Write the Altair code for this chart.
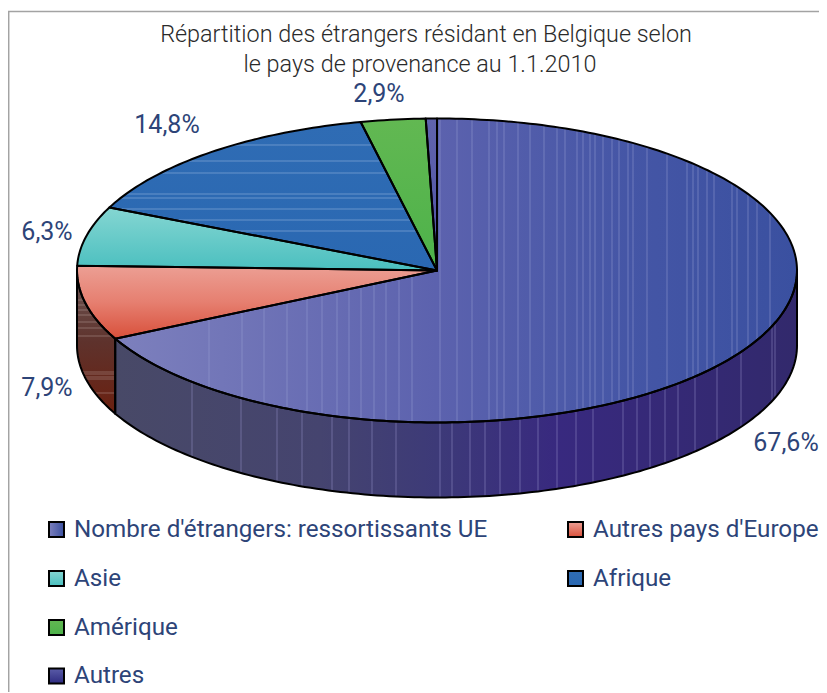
import math
import altair as alt
import pandas as pd

# ---- values
categories = ["Nombre d'étrangers: ressortissants UE", "Autres pays d'Europe", "Asie", "Afrique", "Amérique", "Autres"]
shares = [67.6, 7.9, 6.3, 14.8, 2.9, 0.5]
share_labels = ["67,6%", "7,9%", "6,3%", "14,8%", "2,9%"]
title_lines = ["Répartition des étrangers résidant en Belgique selon", "le pays de provenance au 1.1.2010"]

# ---- layout (page pixels)
CX, CY, RX, RY, DEPTH = 437.0, 270.5, 360.0, 152.0, 75.0
def ux(px): return (px - CX) / RX
def vy(py): return (CY - py) / RY
D = DEPTH / RY

label_pos = [(786, 443), (47, 388), (47, 232), (167, 125), (379, 94)]
title_pos = [(426, 34.5), (420, 64.5)]
legend_pos = [(56.5, 529.5), (575.5, 529.5), (56.5, 578.5), (575.5, 578.5), (56.5, 627.5), (56.5, 676)]

TOP_STRIPES = [209,242,264,287,307,322,337,349,361,374,386,399,412,
               440,457,472,489,497,504,518,530,544,557,565,577,583,590,595,603,612,619,628,633,647,667,687,693,698,707,714,732,737,748,757,770]
WALL_STRIPES = [192,241,277,302,332,349,372,396,440,452,470,485,500,520,538,557,576,593,623,637,650,665,678,695,717,741,772,775]
AFR_STRIPES = [145,161,173,194,198,209,220,231]
EUR_WALL_STRIPES = [300,305,310,315,322,328,336,372,374,377,379,393]

def grad_h(*stops):
    return alt.Gradient(gradient="linear", x1=0, x2=1, y1=0, y2=0,
                        stops=[alt.GradientStop(offset=o, color=c) for o, c in stops])
def grad_v(*stops):
    return alt.Gradient(gradient="linear", x1=0, x2=0, y1=0, y2=1,
                        stops=[alt.GradientStop(offset=o, color=c) for o, c in stops])

top_fills = [
    grad_h((0, "#7d80bd"), (0.47, "#5c62ae"), (0.75, "#4556a6"), (1, "#3a50a0")),
    grad_v((0, "#ec9f94"), (0.5, "#e67f70"), (1, "#d8503b")),
    grad_v((0, "#85d6d2"), (1, "#4abfbf")),
    grad_v((0, "#2f6cb4"), (1, "#2a68b2")),
    grad_v((0, "#62b852"), (1, "#4db24a")),
    grad_v((0, "#6063ad"), (1, "#4f53a5")),
]
legend_fills = [
    grad_h((0, "#7d80bd"), (1, "#3a50a0")),
    grad_v((0, "#ec9f94"), (1, "#d8503b")),
    grad_v((0, "#85d6d2"), (1, "#4abfbf")),
    grad_v((0, "#2f6cb4"), (1, "#2a68b2")),
    grad_v((0, "#62b852"), (1, "#4db24a")),
    grad_v((0, "#5a5ca8"), (1, "#2e2b80")),
]

# ---- slice geometry from the shares
edges = [0.0]
for s in shares:
    edges.append(edges[-1] + s * 3.6)
edges[-1] = 360.0

def arc(a0, a1, dv=0.0):
    n = max(2, int(abs(a1 - a0)) + 1)
    pts = []
    for i in range(n + 1):
        t = math.radians(a0 + (a1 - a0) * i / n)
        pts.append((math.sin(t), math.cos(t) - dv))
    return pts

def frame(pts):
    return pd.DataFrame({"u": [p[0] for p in pts], "v": [p[1] for p in pts], "i": range(len(pts))})

X = alt.Scale(domain=[-1, 1], range=[CX - RX - 8, CX + RX - 8], nice=False, zero=False)
Y = alt.Scale(domain=[-1, 1], range=[CY + RY - 8, CY - RY - 8], nice=False, zero=False)
ex = alt.X("u:Q", scale=X, axis=None)
ey = alt.Y("v:Q", scale=Y, axis=None)

def poly_enc(c):
    return c.encode(x=ex, y=ey, order="i:Q")

polys = []
# side walls: first slice from the right extreme to its end, second slice to the left extreme
wall1 = frame(arc(90, edges[1]) + arc(edges[1], 90, D))
wall2 = frame(arc(edges[1], 270) + arc(270, edges[1], D))
polys.append((wall1, grad_h((0, "#484967"), (0.3, "#45446f"), (0.47, "#3d3a78"), (0.65, "#38297f"), (1, "#32296c"))))
polys.append((wall2, grad_v((0, "#6e5a58"), (0.5, "#5e322c"), (1, "#6b2010"))))
for k in range(len(shares)):
    polys.append((frame([(0.0, 0.0)] + arc(edges[k], edges[k + 1])), top_fills[k]))

fills = [poly_enc(alt.Chart(df).mark_line(filled=True, fill=g, strokeWidth=0, interpolate="linear-closed"))
         for df, g in polys]
outlines = [poly_enc(alt.Chart(df).mark_line(stroke="black", strokeWidth=2, interpolate="linear-closed", strokeJoin="round"))
            for df, g in polys]

# ---- the pale hairlines of the original's banded gradients
u_end = math.sin(math.radians(edges[1])); v_end = math.cos(math.radians(edges[1]))
rows = []
for px in TOP_STRIPES:
    u = ux(px); s = math.sqrt(max(0, 1 - u * u))
    top = s if u >= 0 else (v_end / u_end) * u
    rows.append({"u": u, "v": -s, "v2": top})
top_rules = alt.Chart(pd.DataFrame(rows)).mark_rule(stroke="#9aa0d6", strokeWidth=1, opacity=0.5).encode(
    x=ex, y=ey, y2="v2:Q")

rows = []
for px in WALL_STRIPES:
    u = ux(px); s = math.sqrt(max(0, 1 - u * u))
    rows.append({"u": u, "v": -s - D, "v2": -s})
wall_rules = alt.Chart(pd.DataFrame(rows)).mark_rule(stroke="#9a94cc", strokeWidth=1, opacity=0.5).encode(
    x=ex, y=ey, y2="v2:Q")

rows = []
a0, a1 = edges[3], edges[4]
for py in AFR_STRIPES:
    v = vy(py)
    left = -math.sqrt(1 - v * v)
    l = max(left, v * math.tan(math.radians(a0 - 360)))
    r = v * math.tan(math.radians(a1 - 360))
    rows.append({"u": l, "u2": r, "v": v})
afr_rules = alt.Chart(pd.DataFrame(rows)).mark_rule(stroke="#8fb0dc", strokeWidth=1, opacity=0.6).encode(
    x=ex, x2="u2:Q", y=ey)

rows = []
for py in EUR_WALL_STRIPES:
    v = vy(py)
    if v < -D:
        left = -math.sqrt(max(0, 1 - (v + D) ** 2))
    else:
        left = -1.0
    right = u_end if v < v_end else -math.sqrt(max(0, 1 - v * v))
    rows.append({"u": left, "u2": right, "v": v})
eur_rules = alt.Chart(pd.DataFrame(rows)).mark_rule(stroke="#c9b5ae", strokeWidth=1, opacity=0.4).encode(
    x=ex, x2="u2:Q", y=ey)

# ---- frame
frame_top = alt.Chart(pd.DataFrame({"u": [ux(8)], "u2": [ux(827)], "v": [vy(11.4)]})).mark_rule(
    stroke="#a3a3a3", strokeWidth=1.5).encode(x=ex, x2="u2:Q", y=ey)
frame_left = alt.Chart(pd.DataFrame({"u": [ux(8.7)], "v": [vy(11.4)], "v2": [vy(693)]})).mark_rule(
    stroke="#a3a3a3", strokeWidth=1.5).encode(x=ex, y=ey, y2="v2:Q")

# ---- texts
FONT = "Roboto"
title_df = pd.DataFrame({"u": [ux(p[0]) for p in title_pos], "v": [vy(p[1]) for p in title_pos], "t": title_lines})
title_layer = alt.Chart(title_df).mark_text(font=FONT, fontSize=23.4, fontWeight=300, color="#2a2a2a",
                                            align="center", baseline="middle").encode(x=ex, y=ey, text="t:N")

lab_df = pd.DataFrame({"u": [ux(p[0]) for p in label_pos], "v": [vy(p[1]) for p in label_pos], "t": share_labels})
lab_layer = alt.Chart(lab_df).mark_text(font=FONT, fontSize=25, fontWeight=400, color="#2d4478",
                                        align="center", baseline="middle").encode(x=ex, y=ey, text="t:N")

legend_text_df = pd.DataFrame({"u": [ux(p[0] + 17.5) for p in legend_pos],
                               "v": [vy(p[1]) for p in legend_pos], "t": categories})
legend_text = alt.Chart(legend_text_df).mark_text(font=FONT, fontSize=24.2, fontWeight=400, color="#2d4478",
                                                  align="left", baseline="middle").encode(x=ex, y=ey, text="t:N")
legend_marks = [
    alt.Chart(pd.DataFrame({"u": [ux(p[0])], "v": [vy(p[1])]})).mark_square(
        size=225, fill=f, opacity=1, stroke="black", strokeWidth=2).encode(x=ex, y=ey)
    for p, f in zip(legend_pos, legend_fills)
]

chart = alt.layer(
    frame_top, frame_left, *fills, top_rules, wall_rules, afr_rules, eur_rules, *outlines,
    title_layer, lab_layer, *legend_marks, legend_text,
).properties(width=811, height=684, padding=0, autosize=alt.AutoSizeParams(type="none")).configure_view(stroke=None)

chart.save("out.html", embed_options={"renderer": "svg", "actions": False})
